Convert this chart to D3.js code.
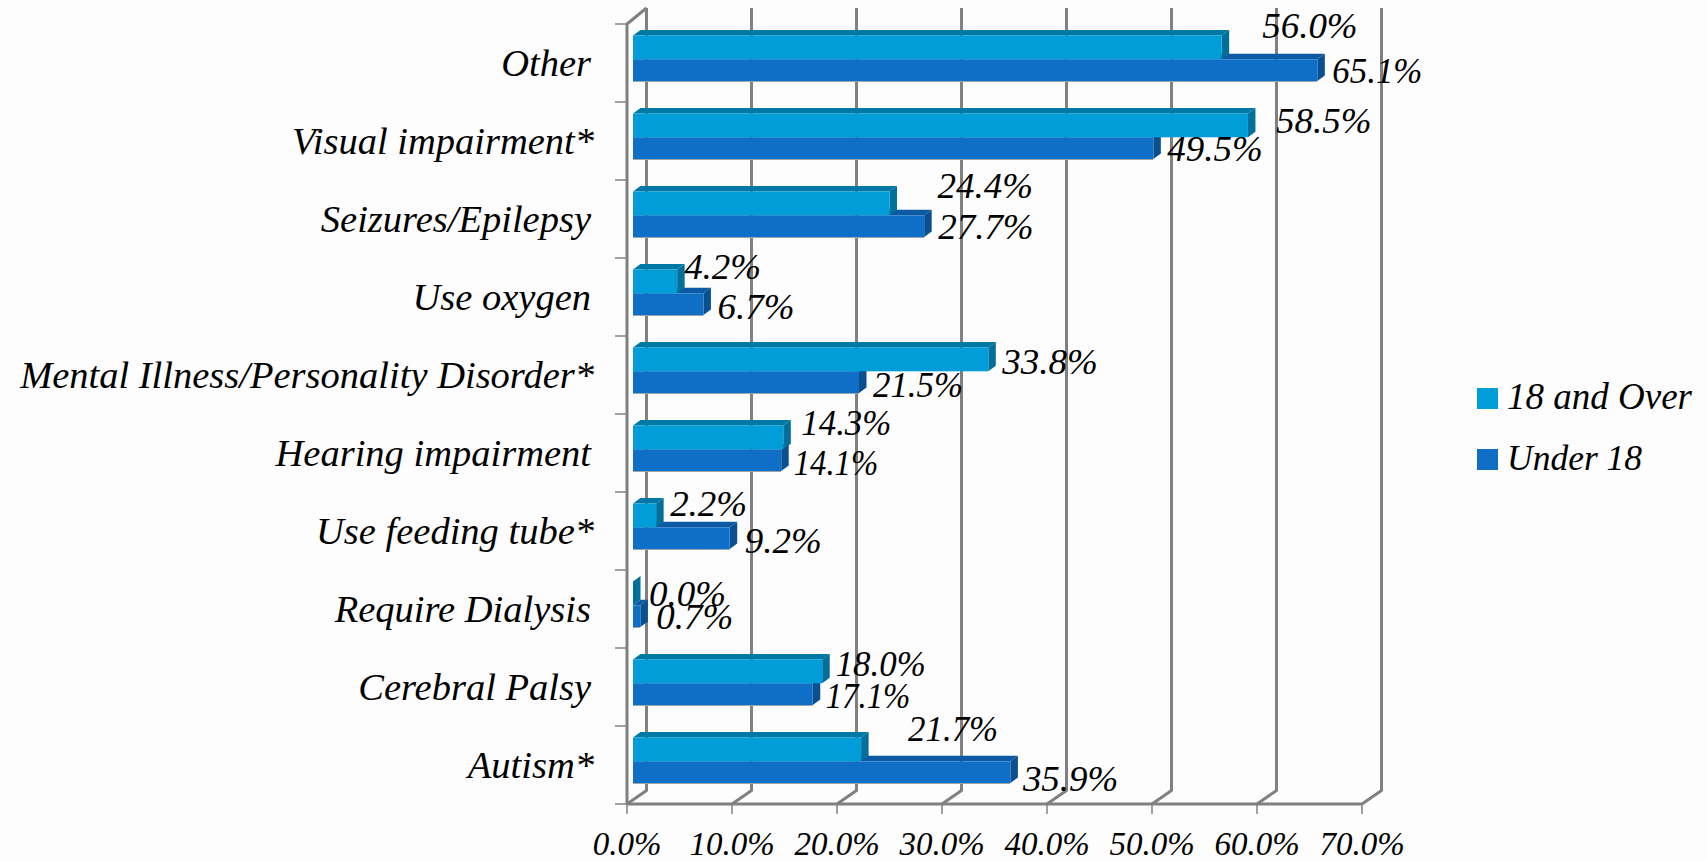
<!DOCTYPE html>
<html><head><meta charset="utf-8">
<script src="https://cdnjs.cloudflare.com/ajax/libs/d3/7.8.5/d3.min.js"></script>
<style>html,body{margin:0;padding:0;background:#fdfdfd;overflow:hidden}
text{font-family:"Liberation Serif",serif;font-style:italic;fill:#000}</style></head>
<body><svg id="c" width="1707" height="861"></svg>
<script>
const categories = ["Other","Visual impairment*","Seizures/Epilepsy","Use oxygen","Mental Illness/Personality Disorder*","Hearing impairment","Use feeding tube*","Require Dialysis","Cerebral Palsy","Autism*"];
const over18 = [56.0,58.5,24.4,4.2,33.8,14.3,2.2,0.0,18.0,21.7];
const under18 = [65.1,49.5,27.7,6.7,21.5,14.1,9.2,0.7,17.1,35.9];
const xTicks = [0,10,20,30,40,50,60,70];
const seriesNames = ["18 and Over","Under 18"];
// hand-placed label nudges from the bar end
const overNudgeX = [40.5,28,48,7,14,18,14,16,13.5,47];
const overNudgeY = [14,31,18,21,38,21,24,36,28,15];
const underNudgeX = [15,14,14,14,14,12.5,15,16,13,12.5];
const underNudgeY = [59,59,59,61,61,61,61,59,60,65];

const svg = d3.select("#c");
const GRID = "#808080";
const depth = {x:19.5, y:13.5}, barDepth = {x:7.5, y:5.5};
const x = d3.scaleLinear().domain([0,70]).range([627,1362]);
const y = d3.scaleBand().domain(categories).range([24,804]);
const barX = v => x(v) + 6 + v*0.012;
const fmt = v => v.toFixed(1) + "%";
const bottom = y.range()[1], top_ = y.range()[0];
// width the label takes: the "1" is a narrow figure in the reference's face
const labelWidth = s => d3.sum(Array.from(s), ch => ch==="%" ? 31 : ch==="." ? 9 : ch==="1" ? 13 : 18.5);

// walls
const g = svg.append("g").attr("fill","none").attr("stroke",GRID);
xTicks.forEach(t=>{
  const px = x(t);
  g.append("path").attr("stroke-width",3).attr("stroke-linejoin","round")
   .attr("d",`M${px},${bottom}L${px+depth.x},${bottom-depth.y}V${top_-16}`);
  g.append("line").attr("stroke-width",1.5).attr("x1",px).attr("x2",px).attr("y1",bottom).attr("y2",bottom+10);
});
g.append("line").attr("stroke-width",3).attr("x1",x(0)).attr("x2",x(70)).attr("y1",bottom).attr("y2",bottom);
g.append("path").attr("stroke-width",3).attr("stroke-linejoin","round")
 .attr("d",`M${x(0)},${bottom}V${top_}L${x(0)+depth.x},${top_-16}`);
categories.forEach(c=>g.append("line").attr("stroke-width",1.5).attr("x1",x(0)-12).attr("x2",x(0)).attr("y1",y(c)).attr("y2",y(c)));
g.append("line").attr("stroke-width",1.5).attr("x1",x(0)-12).attr("x2",x(0)).attr("y1",bottom).attr("y2",bottom);

// 3D bar
function bar(v,yTop,yBot,front,topC,side){
  const x0=barX(0), x1=barX(v), dx=barDepth.x, dy=barDepth.y;
  const b=svg.append("g");
  b.append("path").attr("fill",topC).attr("d",`M${x0},${yTop}L${x0+dx},${yTop-dy}H${x1+dx}L${x1},${yTop}Z`);
  b.append("path").attr("fill",side).attr("d",`M${x1},${yTop}L${x1+dx},${yTop-dy}V${yBot-dy}L${x1},${yBot}Z`);
  b.append("rect").attr("x",x0).attr("y",yTop).attr("width",x1-x0).attr("height",yBot-yTop).attr("fill",front);
}
categories.forEach((c,i)=>{
  const t=y(c);
  bar(under18[i],t+35.3,t+57,"#0F6FC6","#0B5AA3","#0A4F90");
  bar(over18[i],t+11.5,t+35.3,"#009DD9","#0078A6","#006F9A");
  svg.append("line").attr("x1",barX(0)).attr("x2",barX(under18[i])).attr("y1",t+57.5).attr("y2",t+57.5).attr("stroke","#9aa4ad").attr("stroke-width",1);
});

// labels
const lab=svg.append("g").attr("font-size",36.5);
function valueLabel(v,px,py){
  const s=fmt(v);
  lab.append("text").attr("x",px).attr("y",py).attr("textLength",labelWidth(s)).attr("lengthAdjust","spacingAndGlyphs").text(s);
}
categories.forEach((c,i)=>{
  const t=y(c);
  valueLabel(over18[i],barX(over18[i])+overNudgeX[i],t+overNudgeY[i]);
  valueLabel(under18[i],barX(under18[i])+underNudgeX[i],t+underNudgeY[i]);
  const star=c.endsWith("*");
  svg.append("text").attr("x",star?594:591).attr("y",t+52).attr("text-anchor","end").attr("font-size",38.5).text(c);
});
xTicks.forEach(t=>svg.append("text").attr("x",x(t)).attr("y",855).attr("text-anchor","middle").attr("font-size",33).text(fmt(t)));

// legend
[["#009DD9",388,409,37],["#0F6FC6",449,470,35.5]].forEach((l,i)=>{
  svg.append("rect").attr("x",1477).attr("y",l[1]).attr("width",21).attr("height",21).attr("fill",l[0]);
  svg.append("text").attr("x",1507).attr("y",l[2]).attr("font-size",l[3]).text(seriesNames[i]);
});
</script></body></html>
